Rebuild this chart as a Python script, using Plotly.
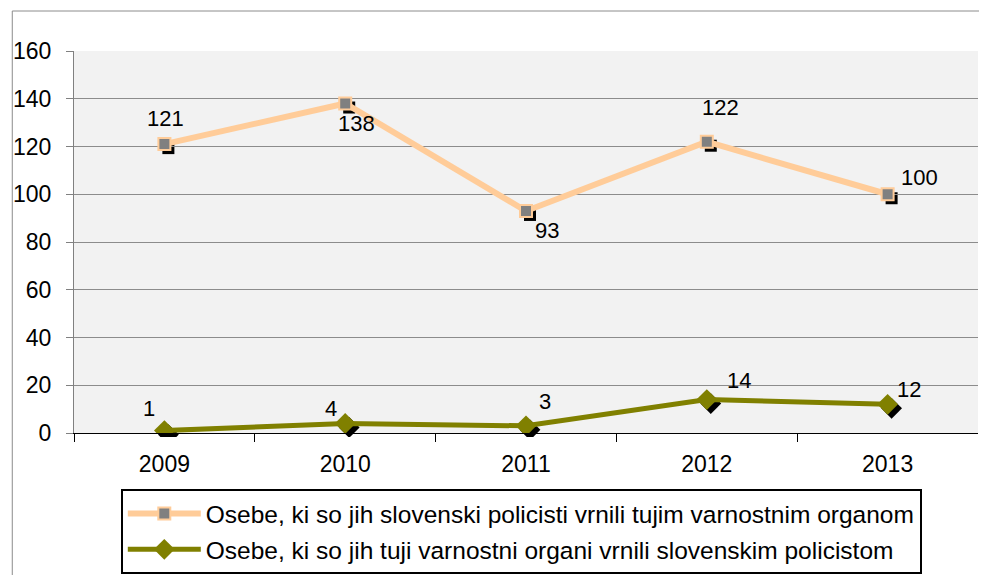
import plotly.graph_objects as go

years = ["2009", "2010", "2011", "2012", "2013"]
returned_by_slovenian = [121, 138, 93, 122, 100]
returned_by_foreign = [1, 4, 3, 14, 12]
name1 = "Osebe, ki so jih slovenski policisti vrnili tujim varnostnim organom"
name2 = "Osebe, ki so jih tuji varnostni organi vrnili slovenskim policistom"

# data-label offsets in pixels (xshift, yshift)
off1 = [(1, 26), (11, -20), (21, -20), (14, 34), (32, 17)]
off2 = [(-15, 22), (-14, 15), (19, 24), (32, 19), (21, 15)]

FONT = "Liberation Sans, Arial, sans-serif"
OFF = 8                     # page body margin
W, H = 987 - OFF, 575 - OFF
L, T = 70 - OFF, 51 - OFF
PW, PH = 908, 382
SH = 4                      # shadow offset
TW, TH = PW + SH, PH + SH
R = W - (L + TW)
B = H - (T + TH)
BOT = T + TH                # fig y of paper y=0


def px_x(x):  # page x -> paper fraction
    return (x - OFF - L) / TW


def px_y(y):  # page y -> paper fraction
    return (BOT - (y - OFF)) / TH


fig = go.Figure()

# shadows on invisible, slightly shifted axes
fig.add_trace(go.Scatter(x=years, y=returned_by_slovenian, mode="markers",
                         marker=dict(symbol="square", size=12, color="black"),
                         showlegend=False, hoverinfo="skip", xaxis="x", yaxis="y"))
fig.add_trace(go.Scatter(x=years, y=returned_by_foreign, mode="markers",
                         marker=dict(symbol="diamond", size=16, color="black"),
                         showlegend=False, hoverinfo="skip", xaxis="x", yaxis="y"))

fig.add_trace(go.Scatter(x=years, y=returned_by_slovenian, mode="lines+markers", name=name1,
                         legendgroup="a",
                         line=dict(color="#FFCC99", width=6),
                         marker=dict(symbol="square", size=12, color="#808080",
                                     line=dict(color="#FFCC99", width=2)),
                         xaxis="x2", yaxis="y2"))
fig.add_trace(go.Scatter(x=years, y=returned_by_foreign, mode="lines+markers", name=name2,
                         legendgroup="b",
                         line=dict(color="#808000", width=5),
                         marker=dict(symbol="diamond", size=16, color="#808000"),
                         xaxis="x2", yaxis="y2"))

ann = []
for vals, offs in [(returned_by_slovenian, off1), (returned_by_foreign, off2)]:
    for i, (v, (dx, dy)) in enumerate(zip(vals, offs)):
        ann.append(dict(x=i, y=v, xref="x2", yref="y2", text=str(v), showarrow=False,
                        xshift=dx, yshift=dy,
                        font=dict(size=22, color="black", family=FONT)))

fig.update_layout(
    width=W, height=H,
    margin=dict(l=L, r=R, t=T, b=B, pad=0),
    paper_bgcolor="white", plot_bgcolor="rgba(0,0,0,0)",
    font=dict(family=FONT, size=23, color="black"),
    xaxis=dict(domain=[SH / TW, 1], anchor="y", visible=False, type="category",
               range=[-0.5, 4.5]),
    yaxis=dict(domain=[0, PH / TH], anchor="x", visible=False, range=[0, 160]),
    xaxis2=dict(domain=[0, PW / TW], anchor="y2", type="category", range=[-0.5, 4.5],
                tickson="boundaries", ticks="outside", ticklen=8, tickcolor="black",
                showline=True, linecolor="black", linewidth=1, showgrid=False,
                tickfont=dict(size=23), ticklabelstandoff=10),
    yaxis2=dict(domain=[SH / TH, 1], anchor="x2", range=[0, 160], dtick=20,
                ticks="outside", ticklen=7, tickcolor="#808080",
                showline=True, linecolor="#808080", linewidth=1,
                showgrid=True, gridcolor="#8C8C8C", gridwidth=1, zeroline=False,
                tickfont=dict(size=23), ticklabelstandoff=10),
    legend=dict(x=px_x(117), xref="paper",
                y=(H - (489 - OFF)) / H, yref="container",
                xanchor="left", yanchor="top",
                bordercolor="black", borderwidth=2, bgcolor="white",
                font=dict(size=24.5), itemwidth=73, tracegroupgap=1,
                traceorder="grouped"),
    annotations=ann,
    shapes=[
        dict(type="rect", xref="paper", yref="paper",
             x0=0, x1=PW / TW, y0=SH / TH, y1=1,
             line=dict(width=0), fillcolor="#F2F2F2", layer="below"),
        dict(type="rect", xref="paper", yref="paper",
             x0=px_x(8), x1=px_x(1010), y0=px_y(600), y1=px_y(11),
             line=dict(color="#8C8C8C", width=1), fillcolor="rgba(0,0,0,0)", layer="below"),
    ],
)

fig.write_html("out.html")
